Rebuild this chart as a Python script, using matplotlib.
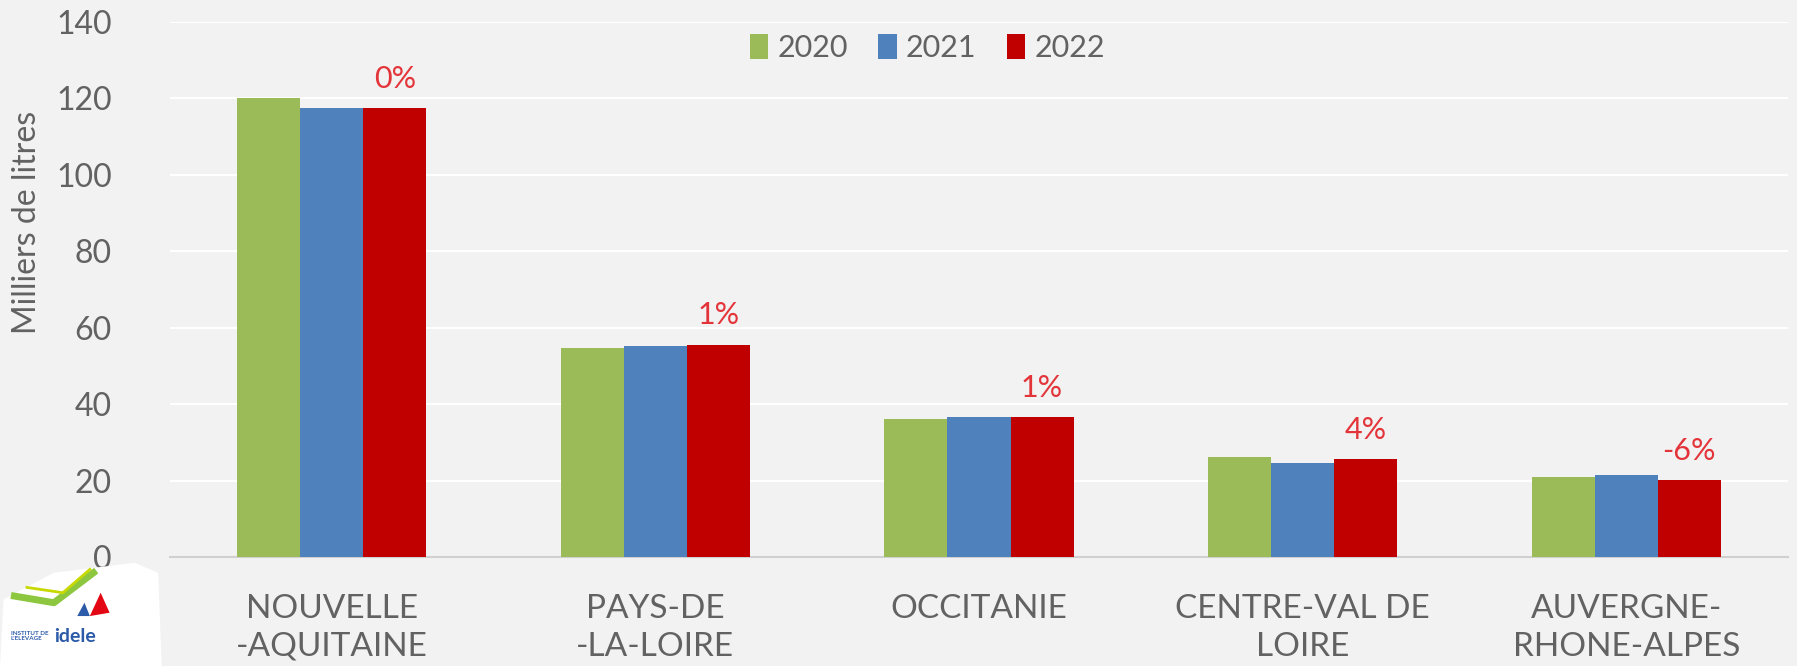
import matplotlib.pyplot as plt
import numpy as np
from matplotlib.patches import Polygon

regions = ["NOUVELLE\n-AQUITAINE", "PAYS-DE\n-LA-LOIRE", "OCCITANIE",
           "CENTRE-VAL DE\nLOIRE", "AUVERGNE-\nRHONE-ALPES"]
years = ["2020", "2021", "2022"]
v2020 = [120.0, 54.7, 36.2, 26.1, 21.0]
v2021 = [117.5, 55.1, 36.5, 24.7, 21.4]
v2022 = [117.5, 55.6, 36.6, 25.6, 20.1]
evol = ["0%", "1%", "1%", "4%", "-6%"]

colors = ["#9bbb59", "#4f81bd", "#c00000"]
grey = "#626262"
bg = "#f2f2f2"

plt.rcParams["font.family"] = ["Lato", "DejaVu Sans"]

fig = plt.figure(figsize=(17.97, 6.66), dpi=100, facecolor=bg)
ax = fig.add_axes([0.0946, 0.1637, 0.9004, 0.8033], facecolor=bg)

x = np.arange(len(regions))
w = 0.195
for i, (vals, c, lab) in enumerate(zip([v2020, v2021, v2022], colors, years)):
    ax.bar(x + (i - 1) * w, vals, w, color=c, label=lab, zorder=3)

# évolution 2022/2021
for xi, v, t in zip(x, v2022, evol):
    ax.text(xi + w, v + 4, t, color="#e3343a", fontsize=22, ha="center", va="bottom")

ax.set_xlim(-0.5, len(regions) - 0.5)
ax.set_ylim(0, 140)
ax.set_yticks(range(0, 141, 20))
ax.grid(axis="y", color="white", linewidth=1.5, zorder=0)
for s in ["top", "right", "left"]:
    ax.spines[s].set_visible(False)
ax.spines["bottom"].set_color("#d0d0d0")
ax.spines["bottom"].set_linewidth(1.5)
ax.tick_params(axis="y", length=0, pad=42, labelsize=23, labelcolor=grey)
ax.tick_params(axis="x", length=0, pad=27, labelsize=24, labelcolor=grey)
ax.set_xticks(x)
ax.set_xticklabels(regions, va="top", linespacing=1.3)
ax.set_ylabel("Milliers de litres", fontsize=23, color=grey)
ax.yaxis.set_label_coords(-0.079, 0.626)

fig.legend(loc="center", bbox_to_anchor=(0.516, 0.928), ncol=3, frameon=False,
           fontsize=22, labelcolor=grey, handlelength=0.6, handleheight=0.9,
           handletextpad=0.3, columnspacing=1.0)

# logo
logo = Polygon([[0.0, 0.0], [0.002, 0.10], [0.03, 0.14], [0.075, 0.155],
                [0.088, 0.14], [0.09, 0.0]], closed=True, transform=fig.transFigure,
               facecolor="white", edgecolor="none")
fig.patches.append(logo)
fig.text(0.006, 0.045, "INSTITUT DE\nL'ELEVAGE", fontsize=4.5, color="#2a5aa8",
         weight="bold", linespacing=0.9, va="center")
fig.text(0.03, 0.045, "idele", fontsize=14, color="#2a5aa8", weight="bold",
         va="center")
fig.lines.append(plt.Line2D([0.008, 0.03, 0.052], [0.105, 0.095, 0.14],
                            transform=fig.transFigure, color="#8dc63f", linewidth=5))
fig.lines.append(plt.Line2D([0.015, 0.035, 0.05], [0.118, 0.11, 0.145],
                            transform=fig.transFigure, color="#c8d900", linewidth=2))
fig.patches.append(Polygon([[0.05, 0.075], [0.056, 0.11], [0.061, 0.08]], closed=True,
                           transform=fig.transFigure, facecolor="#e30613", edgecolor="none"))
fig.patches.append(Polygon([[0.043, 0.075], [0.047, 0.095], [0.05, 0.075]], closed=True,
                           transform=fig.transFigure, facecolor="#2a5aa8", edgecolor="none"))

fig.savefig("out.png", dpi=100, facecolor=bg)
